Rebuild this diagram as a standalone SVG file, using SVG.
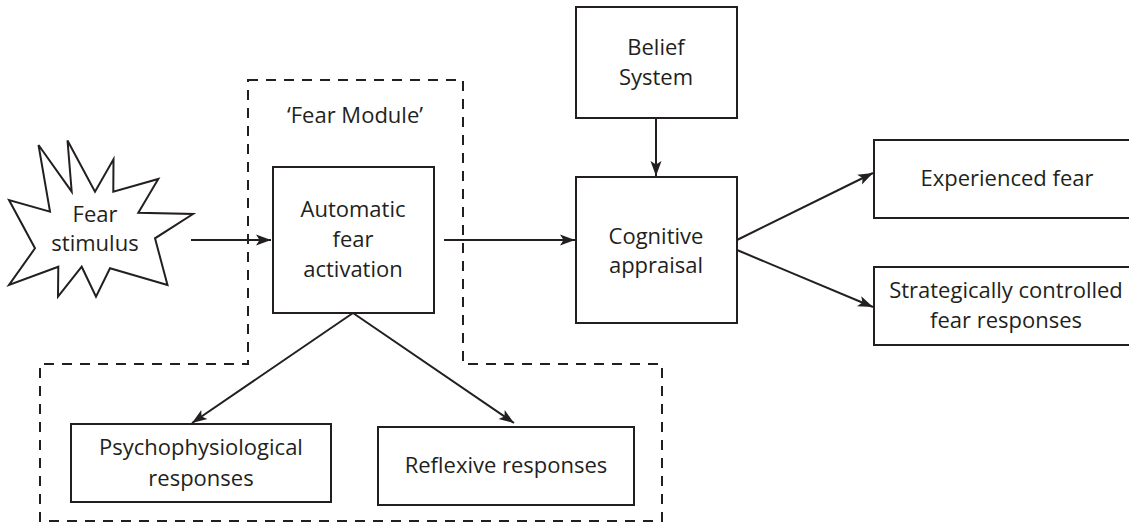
<svg xmlns="http://www.w3.org/2000/svg" width="1129" height="523" viewBox="0 0 1129 523">
  <style>
    .box { fill: #ffffff; stroke: #231f20; stroke-width: 2; }
    .lbl { font-family: "Open Sans", "Noto Sans", sans-serif; font-size: 22px; fill: #231f20; text-anchor: middle; }
    .edge { fill: none; stroke: #231f20; stroke-width: 2; }
    .frame { fill: none; stroke: #231f20; stroke-width: 2; stroke-dasharray: 10 8; }
  </style>
  <defs>
    <marker id="arrow" markerUnits="userSpaceOnUse" markerWidth="16" markerHeight="12" refX="15" refY="6" orient="auto">
      <path d="M0,0.5 L15,6 L0,11.5 L3.5,6 Z" fill="#231f20"/>
    </marker>
  </defs>
  <rect width="1129" height="523" fill="#ffffff"/>

  <!-- dashed outline of the fear module and its outputs -->
  <path id="fear-module-frame" class="frame" d="M248,80 H463 V364 H662 V521 H40 V364 H248 Z"/>
  <text class="lbl" x="355" y="123">‘Fear Module’</text>

  <g id="connectors">
    <line class="edge" x1="191" y1="240" x2="271" y2="240" marker-end="url(#arrow)"/>
    <line class="edge" x1="444" y1="240" x2="575" y2="240" marker-end="url(#arrow)"/>
    <line class="edge" x1="656" y1="118" x2="656" y2="176" marker-end="url(#arrow)"/>
    <line class="edge" x1="353" y1="313" x2="192" y2="423" marker-end="url(#arrow)"/>
    <line class="edge" x1="353" y1="313" x2="514" y2="423" marker-end="url(#arrow)"/>
    <line class="edge" x1="737" y1="240" x2="873" y2="173" marker-end="url(#arrow)"/>
    <line class="edge" x1="737" y1="250" x2="873" y2="307" marker-end="url(#arrow)"/>
  </g>

  <g id="fear-stimulus">
    <polygon class="box" points="38.5,145 71.7,191.7 67.5,140.5 95,191.7 113.5,159.3 113.3,191.7 158.3,179 138.3,212.7 193,214 155,238.3 167.5,285 110,268.3 96,296.7 81.7,266.7 58,296.7 58.3,266.7 9,285 35,248.3 9,200 50,211.7"/>
    <text class="lbl" x="95" y="222">Fear</text>
    <text class="lbl" x="95" y="251">stimulus</text>
  </g>

  <g id="automatic-fear-activation">
    <rect class="box" x="273" y="167" width="161" height="146"/>
    <text class="lbl" x="353" y="217">Automatic</text>
    <text class="lbl" x="353" y="247">fear</text>
    <text class="lbl" x="353" y="277">activation</text>
  </g>

  <g id="belief-system">
    <rect class="box" x="576" y="7" width="161" height="111"/>
    <text class="lbl" x="656" y="55">Belief</text>
    <text class="lbl" x="656" y="85">System</text>
  </g>

  <g id="cognitive-appraisal">
    <rect class="box" x="576" y="177" width="161" height="146"/>
    <text class="lbl" x="656" y="244">Cognitive</text>
    <text class="lbl" x="656" y="273">appraisal</text>
  </g>

  <g id="experienced-fear">
    <rect class="box" x="874" y="140" width="260" height="78"/>
    <text class="lbl" x="1007" y="186">Experienced fear</text>
  </g>

  <g id="strategic-responses">
    <rect class="box" x="874" y="267" width="260" height="78"/>
    <text class="lbl" x="1006" y="298">Strategically controlled</text>
    <text class="lbl" x="1006" y="328">fear responses</text>
  </g>

  <g id="psychophysiological-responses">
    <rect class="box" x="71" y="424" width="260" height="78"/>
    <text class="lbl" x="201" y="455">Psychophysiological</text>
    <text class="lbl" x="201" y="486">responses</text>
  </g>

  <g id="reflexive-responses">
    <rect class="box" x="378" y="427" width="256" height="78"/>
    <text class="lbl" x="506" y="473">Reflexive responses</text>
  </g>
</svg>
